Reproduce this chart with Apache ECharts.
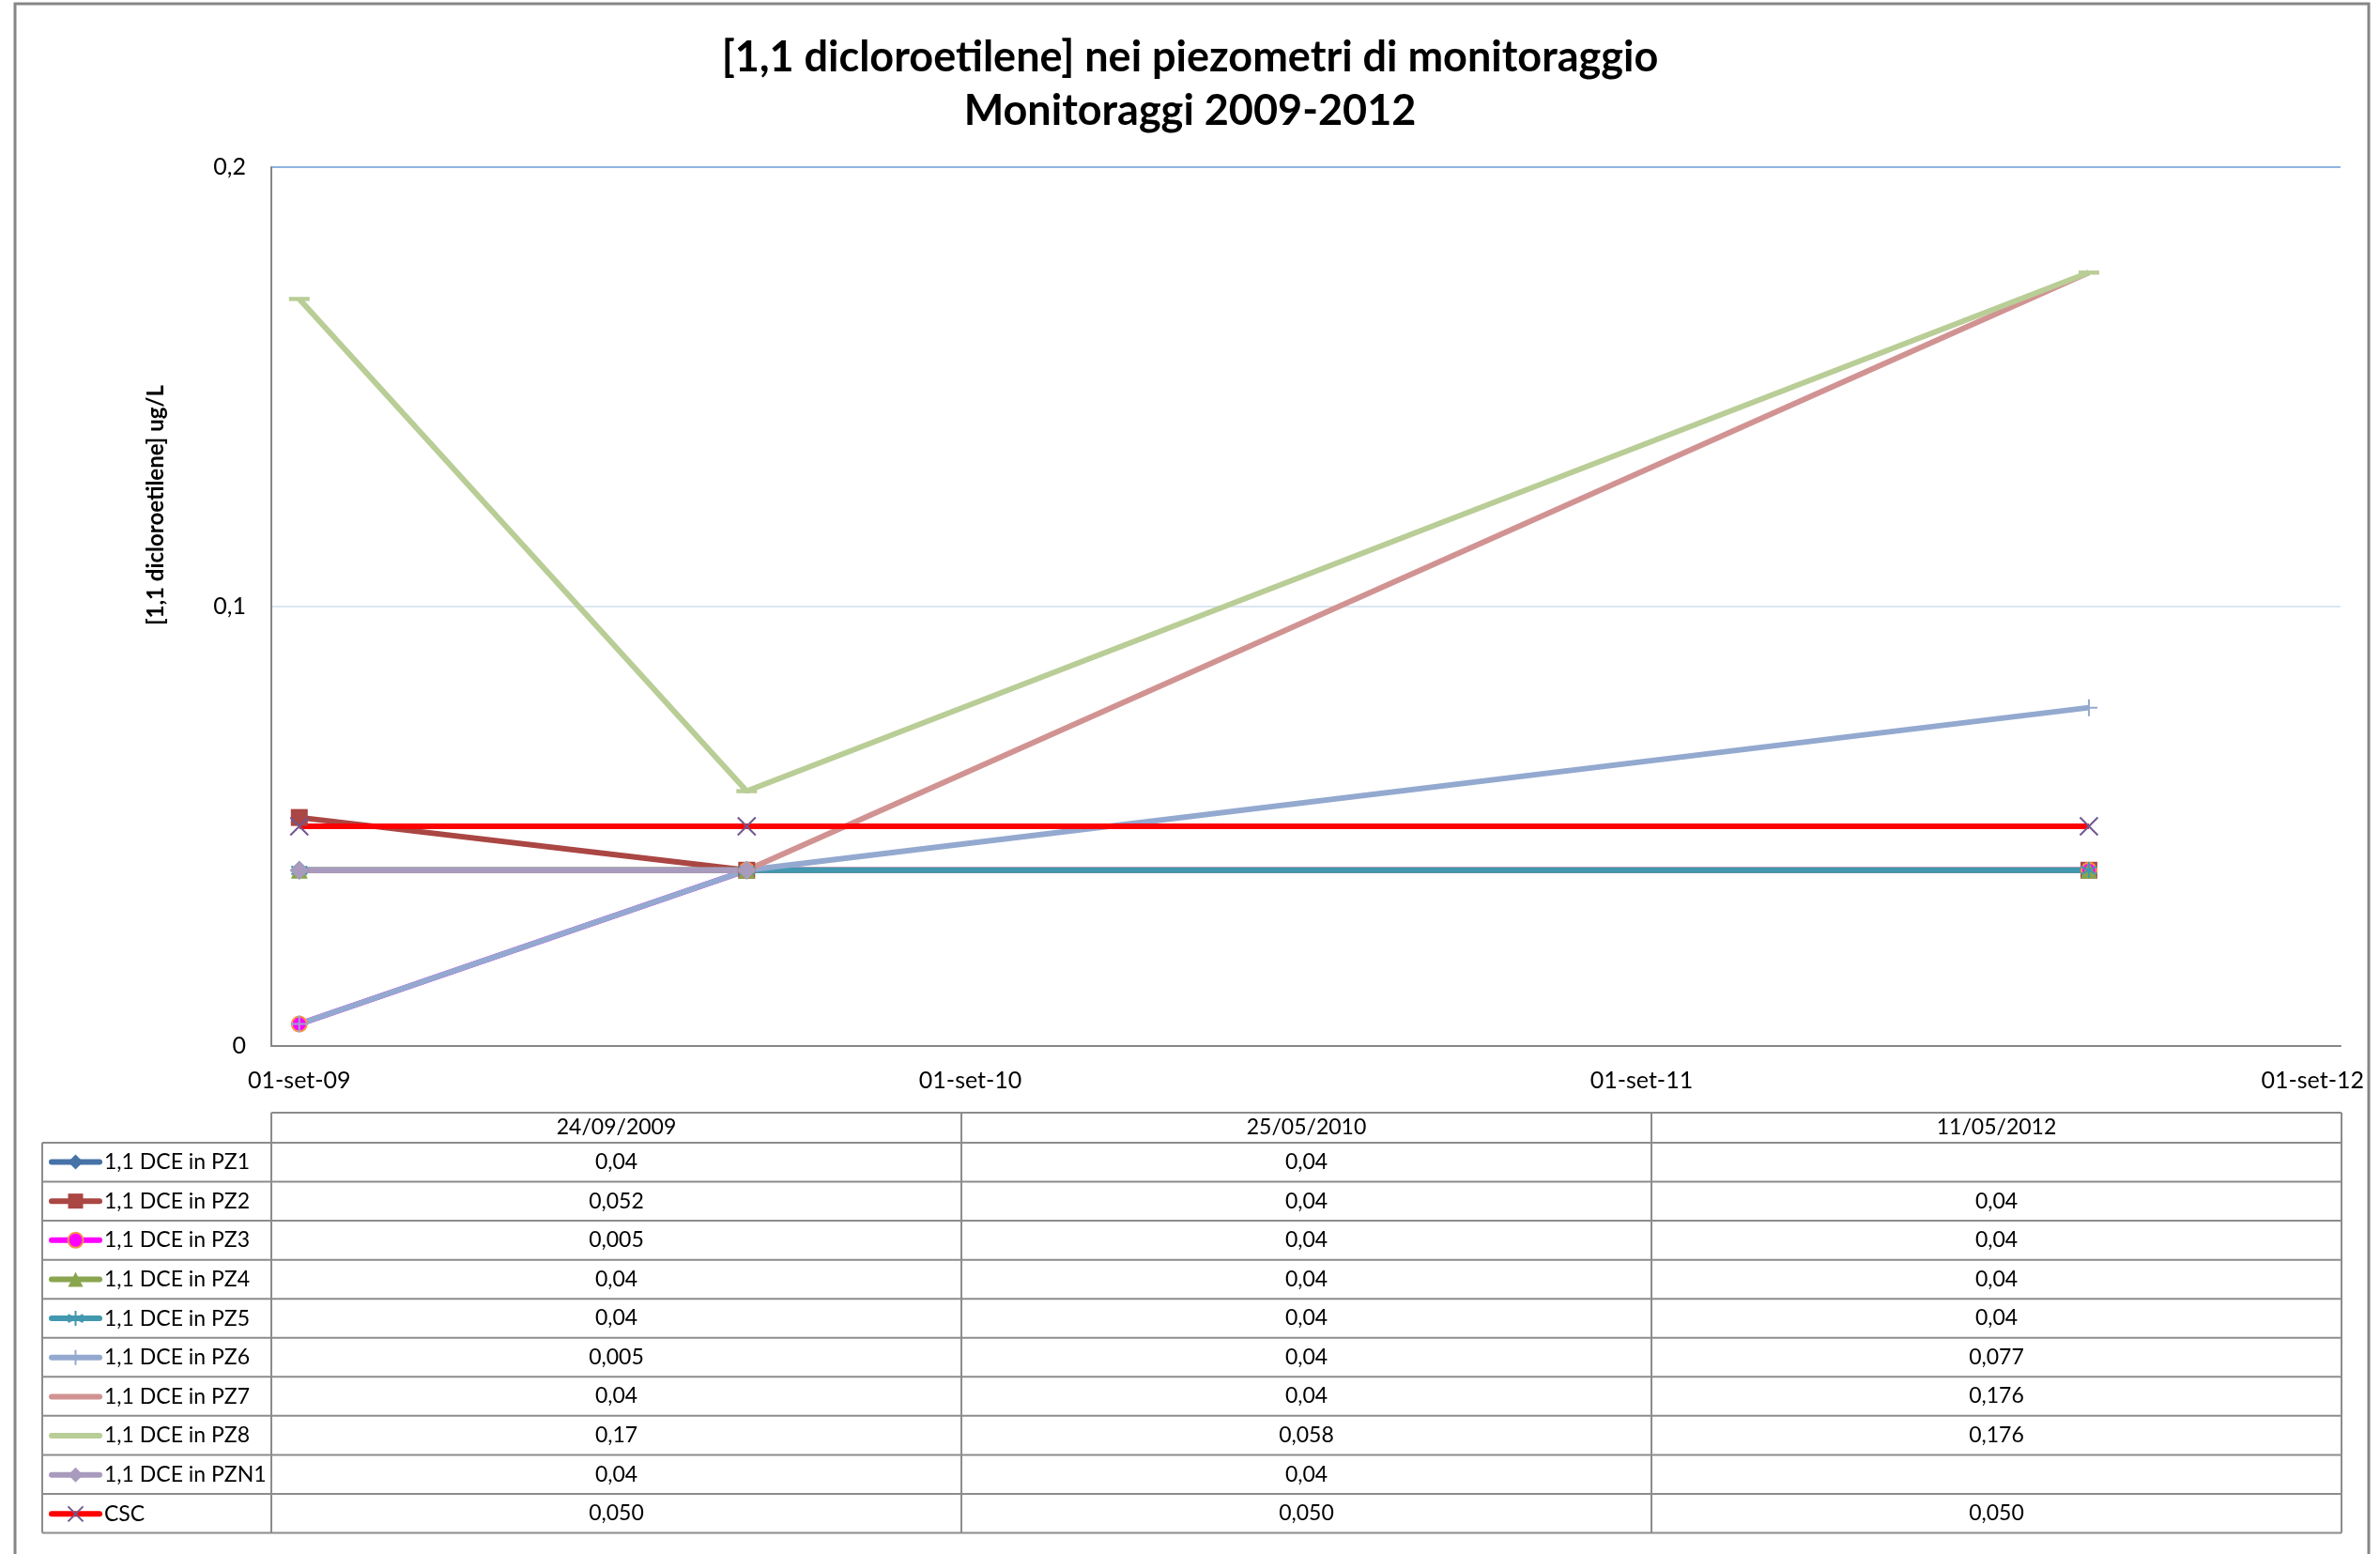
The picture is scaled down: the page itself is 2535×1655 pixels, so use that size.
<!DOCTYPE html>
<html>
<head>
<meta charset="utf-8">
<title>[1,1 dicloroetilene] nei piezometri di monitoraggio</title>
<script src="https://cdn.jsdelivr.net/npm/echarts@6/dist/echarts.min.js"></script>
<style>
  html, body { margin: 0; padding: 0; background: #fff; }
  #chart { width: 2535px; height: 1655px; }
</style>
</head>
<body>
<div id="chart"></div>
<script>
  // date di campionamento (intestazione tabella)
  const dates = ['24/09/2009', '25/05/2010', '11/05/2012'];
  const seriesNames = ['1,1 DCE in PZ1', '1,1 DCE in PZ2', '1,1 DCE in PZ3', '1,1 DCE in PZ4', '1,1 DCE in PZ5',
    '1,1 DCE in PZ6', '1,1 DCE in PZ7', '1,1 DCE in PZ8', '1,1 DCE in PZN1', 'CSC'];
  // valori ug/L
  const pz1 = [0.04, 0.04, null];
  const pz2 = [0.052, 0.04, 0.04];
  const pz3 = [0.005, 0.04, 0.04];
  const pz4 = [0.04, 0.04, 0.04];
  const pz5 = [0.04, 0.04, 0.04];
  const pz6 = [0.005, 0.04, 0.077];
  const pz7 = [0.04, 0.04, 0.176];
  const pz8 = [0.17, 0.058, 0.176];
  const pzn1 = [0.04, 0.04, null];
  const csc = [0.05, 0.05, 0.05];
  const yTicks = [0, 0.1, 0.2];
  const monthNames = ['gen', 'feb', 'mar', 'apr', 'mag', 'giu', 'lug', 'ago', 'set', 'ott', 'nov', 'dic'];

  const allValues = [pz1, pz2, pz3, pz4, pz5, pz6, pz7, pz8, pzn1, csc];
  const decimals = [null, null, null, null, null, null, null, null, null, 3];

  // asse per mesi (come Excel: unità base = mesi), da set-09 a set-12
  const months = [];
  for (let y = 2009, m = 8; y < 2012 || (y === 2012 && m <= 8); m++) {
    if (m > 11) { m = 0; y++; }
    months.push(monthNames[m] + '-' + String(y).slice(2));
  }
  function monthKey(d) {
    const p = d.split('/');
    return monthNames[parseInt(p[1], 10) - 1] + '-' + p[2].slice(2);
  }
  function fmt(v, dec) {
    if (v == null) return '';
    return (dec ? v.toFixed(dec) : String(v)).replace('.', ',');
  }

  const asterisk = 'path://M5,0L5,10M0.7,2.5L9.3,7.5M0.7,7.5L9.3,2.5';
  const plus = 'path://M5,0L5,10M0,5L10,5';
  const cross = 'path://M0,0L10,10M10,0L0,10';
  const dash = 'path://M0,0L20,0L20,4L0,4Z';

  const styles = [
    {line: '#4572A7', symbol: 'diamond', size: 20, fill: '#4572A7'},
    {line: '#AA4643', symbol: 'rect', size: 18, fill: '#AA4643'},
    {line: '#FF00FF', symbol: 'circle', size: 16, fill: '#FF00FF', border: '#F79646', bw: 2},
    {line: '#89A54E', symbol: 'triangle', size: 18, fill: '#89A54E'},
    {line: '#4198AF', symbol: asterisk, size: 17, fill: '#4198AF', border: '#4198AF', bw: 2},
    {line: '#93A9CF', symbol: plus, size: 18, fill: '#93A9CF', border: '#93A9CF', bw: 2},
    {line: '#D19392', symbol: 'none', size: 0, fill: '#D19392', hideKey: true},
    {line: '#B9CD96', symbol: dash, size: 22, fill: '#B9CD96', keep: true, hideKey: true},
    {line: '#A99BBD', symbol: 'diamond', size: 20, fill: '#A99BBD'},
    {line: '#FF0000', symbol: cross, size: 19, fill: '#71588F', border: '#71588F', bw: 2}
  ];

  const series = seriesNames.map(function (name, s) {
    const st = styles[s];
    const data = [];
    dates.forEach(function (d, i) {
      if (allValues[s][i] != null) data.push([monthKey(d), allValues[s][i]]);
    });
    return {
      name: name,
      type: 'line',
      data: data,
      symbol: st.symbol,
      symbolSize: st.size,
      symbolKeepAspect: !!st.keep,
      showAllSymbol: true,
      lineStyle: {color: st.line, width: 6},
      itemStyle: {color: st.fill, borderColor: st.border || st.fill, borderWidth: st.bw || 0},
      emphasis: {disabled: true}
    };
  });

  const legendData = seriesNames.map(function (name, s) {
    return styles[s].hideKey ? {name: name, itemStyle: {opacity: 0}} : {name: name};
  });

  // tabella dati sotto al grafico
  const colX = [289, 1024, 1759, 2494];
  const tableLeft = 45, headTop = 1185, rowTop = 1217, rowH = 41.55;
  const tableBottom = rowTop + rowH * seriesNames.length;
  const lineStyle = {stroke: '#8C8C8C', lineWidth: 2};
  const font = '23px Lato';
  const graphics = [];
  graphics.push({type: 'line', shape: {x1: colX[0], y1: headTop, x2: colX[3], y2: headTop}, style: lineStyle});
  for (let i = 0; i <= seriesNames.length; i++) {
    const y = rowTop + i * rowH;
    graphics.push({type: 'line', shape: {x1: tableLeft, y1: y, x2: colX[3], y2: y}, style: lineStyle});
  }
  graphics.push({type: 'line', shape: {x1: tableLeft, y1: rowTop, x2: tableLeft, y2: tableBottom}, style: lineStyle});
  colX.forEach(function (x) {
    graphics.push({type: 'line', shape: {x1: x, y1: headTop, x2: x, y2: tableBottom}, style: lineStyle});
  });
  dates.forEach(function (d, c) {
    const cx = (colX[c] + colX[c + 1]) / 2;
    graphics.push({type: 'text', x: cx, y: (headTop + rowTop) / 2,
      style: {text: d, font: font, fill: '#000', align: 'center', verticalAlign: 'middle'}});
    allValues.forEach(function (vals, r) {
      graphics.push({type: 'text', x: cx, y: rowTop + (r + 0.5) * rowH,
        style: {text: fmt(vals[c], decimals[r]), font: font, fill: '#000', align: 'center', verticalAlign: 'middle'}});
    });
  });
  // bordo esterno e titolo asse y
  graphics.push({type: 'rect', shape: {x: 16, y: 4, width: 2507, height: 1700},
    style: {fill: null, stroke: '#868686', lineWidth: 3}, z: -1});
  graphics.push({type: 'text', x: 166, y: 538, rotation: Math.PI / 2,
    style: {text: '[1,1 dicloroetilene] ug/L', font: 'bold 24px Lato', fill: '#000', align: 'center', verticalAlign: 'middle'}});

  const chart = echarts.init(document.getElementById('chart'));
  chart.setOption({
    animation: false,
    backgroundColor: '#fff',
    title: {
      text: '[1,1 dicloroetilene] nei piezometri di monitoraggio\nMonitoraggi 2009-2012',
      left: 'center',
      top: 28,
      textStyle: {fontFamily: 'Lato', fontWeight: 'bold', fontSize: 45, lineHeight: 57, color: '#000'}
    },
    legend: {
      data: legendData,
      orient: 'vertical',
      left: 52,
      top: 1226,
      padding: 0,
      itemWidth: 51,
      itemHeight: 20,
      itemGap: 18.65,
      selectedMode: false,
      lineStyle: {width: 6, cap: 'round'},
      textStyle: {fontFamily: 'Lato', fontSize: 23, lineHeight: 20, color: '#000'}
    },
    grid: {left: 289, right: 42, top: 178, bottom: 541},
    xAxis: {
      type: 'category',
      data: months,
      boundaryGap: true,
      axisLine: {lineStyle: {color: '#868686', width: 2}},
      axisTick: {show: false},
      axisLabel: {
        interval: function (idx) { return idx % 12 === 0; },
        formatter: function (v) { return '01-' + v; },
        fontFamily: 'Lato', fontSize: 25, color: '#000', margin: 24
      },
      splitLine: {show: false}
    },
    yAxis: {
      type: 'value',
      min: yTicks[0],
      max: yTicks[yTicks.length - 1],
      interval: yTicks[1] - yTicks[0],
      axisLine: {show: true, lineStyle: {color: '#868686', width: 2}},
      axisTick: {show: false},
      axisLabel: {
        formatter: function (v) { return String(v).replace('.', ','); },
        fontFamily: 'Lato', fontSize: 25, color: '#000', margin: 27
      },
      splitLine: {lineStyle: {color: ['#ffffff', '#DCE6F2', '#8EB4E3'], width: 2}}
    },
    graphic: graphics,
    series: series
  });
</script>
</body>
</html>
